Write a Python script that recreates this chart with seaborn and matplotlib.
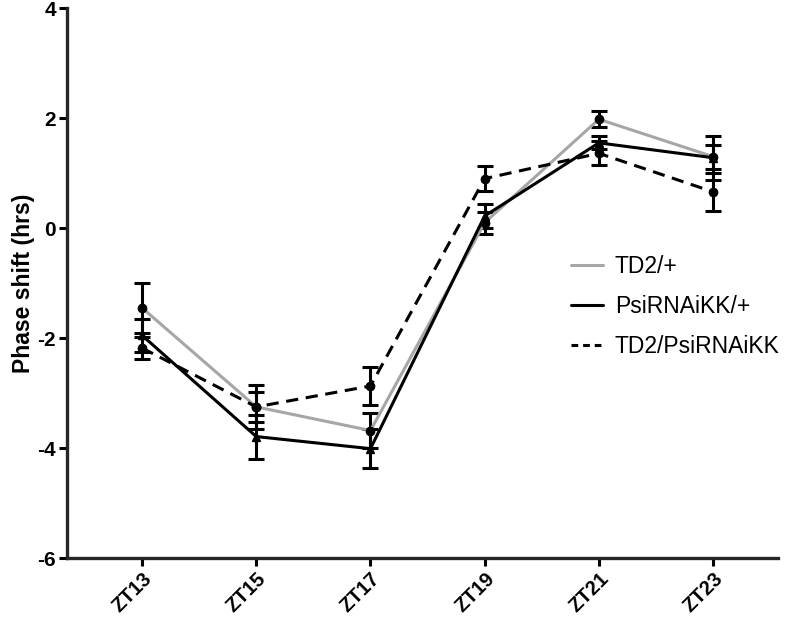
import numpy as np
import pandas as pd
import matplotlib
matplotlib.use('Agg')
import matplotlib.pyplot as plt
import seaborn as sns

# values
zt_labels = ['ZT13', 'ZT15', 'ZT17', 'ZT19', 'ZT21', 'ZT23']

td2_mean = [-1.45, -3.25, -3.68, 0.10, 1.98, 1.30]
td2_err = [0.45, 0.27, 0.32, 0.20, 0.15, 0.22]

psi_mean = [-1.95, -3.79, -4.01, 0.22, 1.55, 1.28]
psi_err = [0.30, 0.40, 0.36, 0.22, 0.12, 0.40]

cross_mean = [-2.18, -3.25, -2.87, 0.90, 1.36, 0.66]
cross_err = [0.20, 0.40, 0.35, 0.23, 0.22, 0.34]

sns.set_style('ticks')
plt.rcParams['font.family'] = ['Liberation Sans', 'DejaVu Sans']
plt.rcParams['axes.unicode_minus'] = False
plt.rcParams['text.color'] = 'black'
plt.rcParams['axes.labelcolor'] = 'black'
plt.rcParams['xtick.color'] = 'black'
plt.rcParams['ytick.color'] = 'black'

fig = plt.figure(figsize=(7.9, 6.25), dpi=100)
ax = fig.add_axes([0.085, 0.107, 0.9, 0.88])

x = np.arange(len(zt_labels))
series = [
    ('TD2/+', td2_mean, td2_err, '#a6a6a6', '-', 'o'),
    ('PsiRNAiKK/+', psi_mean, psi_err, 'black', '-', '^'),
    ('TD2/PsiRNAiKK', cross_mean, cross_err, 'black', '--', 'o'),
]

for name, mean, err, col, ls, mk in series:
    df = pd.DataFrame({'x': x, 'y': mean})
    # error bars first so the lines sit on top
    ax.errorbar(x, mean, yerr=err, fmt='none', ecolor='black',
                elinewidth=2.2, capsize=6, capthick=2.2, zorder=2)
    sns.lineplot(data=df, x='x', y='y', ax=ax, color=col, linewidth=2.2,
                 linestyle=ls, label=name, zorder=3)
    ax.plot(x, mean, linestyle='none', marker=mk, color='black',
            markersize=6, zorder=4)

for l in ax.get_lines():
    if l.get_linestyle() == '--':
        l.set_dashes([4, 2.5])

ax.set_xlim(-0.656, 5.57)
ax.set_ylim(-6, 4)
ax.set_yticks([-6, -4, -2, 0, 2, 4])
ax.set_xticks(x)
ax.set_xticklabels(zt_labels, rotation=45, ha='right', rotation_mode='anchor',
                   fontsize=14.5, fontweight='bold')
for t in ax.get_yticklabels():
    t.set_fontsize(15)
    t.set_fontweight('bold')
ax.set_xlabel('')
ax.set_ylabel('Phase shift (hrs)', fontsize=16.5, fontweight='bold', labelpad=2)

for s in ['top', 'right']:
    ax.spines[s].set_visible(False)
for s in ['left', 'bottom']:
    ax.spines[s].set_linewidth(2.4)
ax.tick_params(axis='both', width=2.2, length=6, color='black', pad=2)

leg = ax.legend(loc='center left', bbox_to_anchor=(0.68, 0.458), frameon=False,
                fontsize=16.5, handlelength=1.4, labelspacing=0.75, handletextpad=0.5)
for h in leg.get_lines():
    if h.get_linestyle() == '--':
        h.set_dashes([2.2, 1.6])

fig.savefig('out.png', dpi=100)
